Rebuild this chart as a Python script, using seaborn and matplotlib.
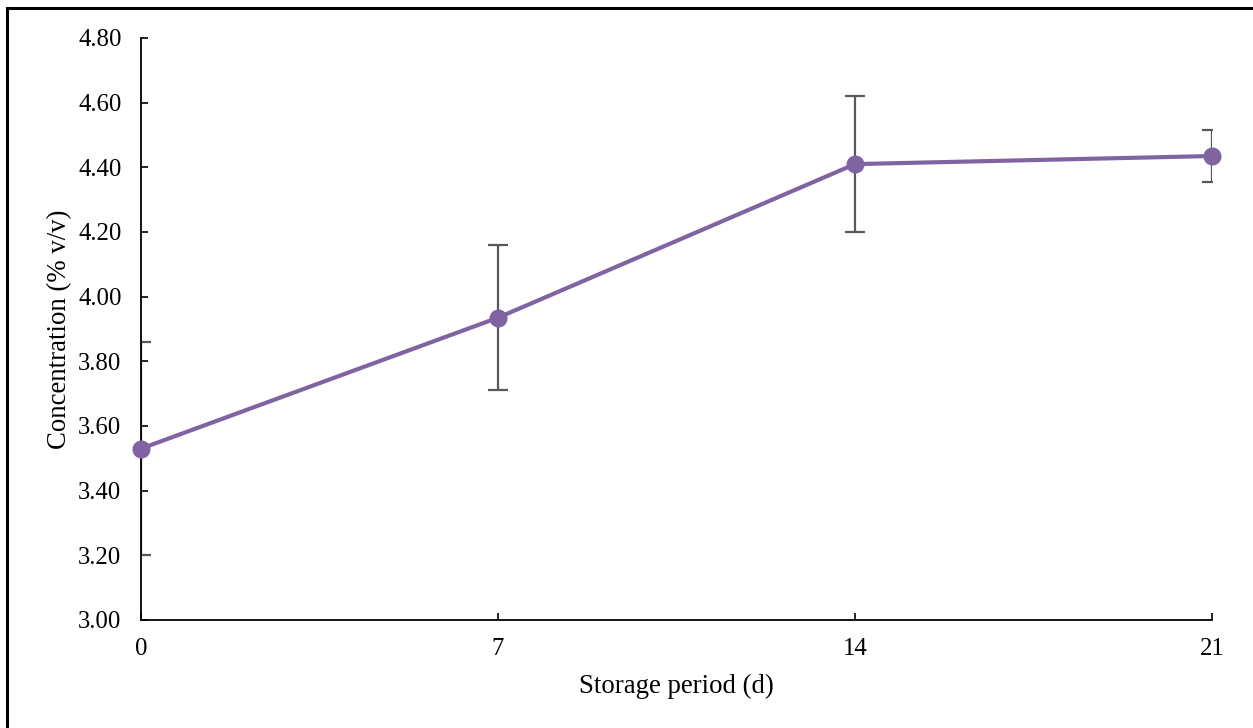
import matplotlib
matplotlib.use("Agg")
import matplotlib.pyplot as plt
import seaborn as sns
import pandas as pd
from matplotlib.patches import Rectangle

days = [0, 7, 14, 21]
concentration = [3.53, 3.935, 4.41, 4.435]
error = [0.33, 0.225, 0.21, 0.08]
yticks = [3.00, 3.20, 3.40, 3.60, 3.80, 4.00, 4.20, 4.40, 4.60, 4.80]

sns.set_theme(style="white")
plt.rcParams['font.family'] = ['Liberation Serif', 'DejaVu Serif']

df = pd.DataFrame({"day": days, "conc": concentration, "err": error})

fig = plt.figure(figsize=(12.53, 7.28), dpi=100)
ax = fig.add_axes([141/1253, 1-620/728, (1212-141)/1253, (620-38)/728])

ax.errorbar(df["day"], df["conc"], yerr=df["err"], fmt="none", ecolor="#595959",
            elinewidth=1.6, capsize=7, capthick=1.6, zorder=2, clip_on=True)
sns.lineplot(data=df, x="day", y="conc", ax=ax, color="#8064A2", linewidth=3,
             marker="o", markersize=13, markeredgewidth=0, zorder=3, clip_on=False)

ax.set_xlim(0, 21)
ax.set_ylim(3.0, 4.8)
ax.set_xticks(days)
ax.set_xticklabels([str(d) for d in days])
ax.set_yticks(yticks)
ax.set_yticklabels([f"{v:.2f}" for v in yticks])
ax.tick_params(axis="both", direction="in", length=5, width=1.2, color="black",
               labelsize=17.8, labelcolor="black", left=True, bottom=True)
ax.tick_params(axis="x", pad=13)
ax.tick_params(axis="y", pad=14)
for s in ["top", "right"]:
    ax.spines[s].set_visible(False)
for s in ["left", "bottom"]:
    ax.spines[s].set_color("black")
    ax.spines[s].set_linewidth(1.3)

ax.set_xlabel("Storage period (d)", fontsize=19.3, color="black", labelpad=10)
ax.set_ylabel("Concentration (% v/v)", fontsize=19.3, color="black", labelpad=4)

fig.patches.append(Rectangle((6.5/1253, -0.1), 1.2, 1 - 8/728 + 0.1, transform=fig.transFigure,
                             fill=False, edgecolor="black", linewidth=2.2))

fig.savefig("out.png", dpi=100)
